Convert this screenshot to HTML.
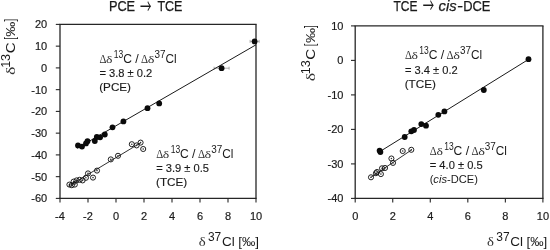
<!DOCTYPE html>
<html lang="en"><head><meta charset="utf-8"><title>Dual isotope plots</title>
<style>
html,body{margin:0;padding:0;background:#fff;}
body{width:550px;height:250px;overflow:hidden;}
svg{display:block;}
text{white-space:pre;}
</style></head>
<body>
<svg width="550" height="250" viewBox="0 0 550 250">
<rect x="0" y="0" width="550" height="250" fill="#ffffff"/>
<line x1="59.35" y1="24.4" x2="256.65" y2="24.4" stroke="#262626" stroke-width="1.1" />
<line x1="59.35" y1="198.4" x2="256.65" y2="198.4" stroke="#262626" stroke-width="1.1" />
<line x1="60.0" y1="24.4" x2="60.0" y2="198.4" stroke="#262626" stroke-width="1.3" />
<line x1="256.0" y1="24.4" x2="256.0" y2="198.4" stroke="#262626" stroke-width="1.3" />
<line x1="60.00" y1="198.4" x2="60.00" y2="202.6" stroke="#262626" stroke-width="1.1" />
<text x="60.00" y="219.60" font-family='"Liberation Sans", sans-serif' font-size="11.0" text-anchor="middle" fill="#1a1a1a" stroke="#1a1a1a" stroke-width="0.18">-4</text>
<line x1="88.00" y1="198.4" x2="88.00" y2="202.6" stroke="#262626" stroke-width="1.1" />
<text x="88.00" y="219.60" font-family='"Liberation Sans", sans-serif' font-size="11.0" text-anchor="middle" fill="#1a1a1a" stroke="#1a1a1a" stroke-width="0.18">-2</text>
<line x1="116.00" y1="198.4" x2="116.00" y2="202.6" stroke="#262626" stroke-width="1.1" />
<text x="116.00" y="219.60" font-family='"Liberation Sans", sans-serif' font-size="11.0" text-anchor="middle" fill="#1a1a1a" stroke="#1a1a1a" stroke-width="0.18">0</text>
<line x1="144.00" y1="198.4" x2="144.00" y2="202.6" stroke="#262626" stroke-width="1.1" />
<text x="144.00" y="219.60" font-family='"Liberation Sans", sans-serif' font-size="11.0" text-anchor="middle" fill="#1a1a1a" stroke="#1a1a1a" stroke-width="0.18">2</text>
<line x1="172.00" y1="198.4" x2="172.00" y2="202.6" stroke="#262626" stroke-width="1.1" />
<text x="172.00" y="219.60" font-family='"Liberation Sans", sans-serif' font-size="11.0" text-anchor="middle" fill="#1a1a1a" stroke="#1a1a1a" stroke-width="0.18">4</text>
<line x1="200.00" y1="198.4" x2="200.00" y2="202.6" stroke="#262626" stroke-width="1.1" />
<text x="200.00" y="219.60" font-family='"Liberation Sans", sans-serif' font-size="11.0" text-anchor="middle" fill="#1a1a1a" stroke="#1a1a1a" stroke-width="0.18">6</text>
<line x1="228.00" y1="198.4" x2="228.00" y2="202.6" stroke="#262626" stroke-width="1.1" />
<text x="228.00" y="219.60" font-family='"Liberation Sans", sans-serif' font-size="11.0" text-anchor="middle" fill="#1a1a1a" stroke="#1a1a1a" stroke-width="0.18">8</text>
<line x1="256.00" y1="198.4" x2="256.00" y2="202.6" stroke="#262626" stroke-width="1.1" />
<text x="256.00" y="219.60" font-family='"Liberation Sans", sans-serif' font-size="11.0" text-anchor="middle" fill="#1a1a1a" stroke="#1a1a1a" stroke-width="0.18">10</text>
<line x1="55.8" y1="24.40" x2="60.0" y2="24.40" stroke="#262626" stroke-width="1.1" />
<text x="47.20" y="28.30" font-family='"Liberation Sans", sans-serif' font-size="11.0" text-anchor="end" fill="#1a1a1a" stroke="#1a1a1a" stroke-width="0.18">20</text>
<line x1="55.8" y1="46.15" x2="60.0" y2="46.15" stroke="#262626" stroke-width="1.1" />
<text x="47.20" y="50.05" font-family='"Liberation Sans", sans-serif' font-size="11.0" text-anchor="end" fill="#1a1a1a" stroke="#1a1a1a" stroke-width="0.18">10</text>
<line x1="55.8" y1="67.90" x2="60.0" y2="67.90" stroke="#262626" stroke-width="1.1" />
<text x="47.20" y="71.80" font-family='"Liberation Sans", sans-serif' font-size="11.0" text-anchor="end" fill="#1a1a1a" stroke="#1a1a1a" stroke-width="0.18">0</text>
<line x1="55.8" y1="89.65" x2="60.0" y2="89.65" stroke="#262626" stroke-width="1.1" />
<text x="47.20" y="93.55" font-family='"Liberation Sans", sans-serif' font-size="11.0" text-anchor="end" fill="#1a1a1a" stroke="#1a1a1a" stroke-width="0.18">-10</text>
<line x1="55.8" y1="111.40" x2="60.0" y2="111.40" stroke="#262626" stroke-width="1.1" />
<text x="47.20" y="115.30" font-family='"Liberation Sans", sans-serif' font-size="11.0" text-anchor="end" fill="#1a1a1a" stroke="#1a1a1a" stroke-width="0.18">-20</text>
<line x1="55.8" y1="133.15" x2="60.0" y2="133.15" stroke="#262626" stroke-width="1.1" />
<text x="47.20" y="137.05" font-family='"Liberation Sans", sans-serif' font-size="11.0" text-anchor="end" fill="#1a1a1a" stroke="#1a1a1a" stroke-width="0.18">-30</text>
<line x1="55.8" y1="154.90" x2="60.0" y2="154.90" stroke="#262626" stroke-width="1.1" />
<text x="47.20" y="158.80" font-family='"Liberation Sans", sans-serif' font-size="11.0" text-anchor="end" fill="#1a1a1a" stroke="#1a1a1a" stroke-width="0.18">-40</text>
<line x1="55.8" y1="176.65" x2="60.0" y2="176.65" stroke="#262626" stroke-width="1.1" />
<text x="47.20" y="180.55" font-family='"Liberation Sans", sans-serif' font-size="11.0" text-anchor="end" fill="#1a1a1a" stroke="#1a1a1a" stroke-width="0.18">-50</text>
<line x1="55.8" y1="198.40" x2="60.0" y2="198.40" stroke="#262626" stroke-width="1.1" />
<text x="47.20" y="202.30" font-family='"Liberation Sans", sans-serif' font-size="11.0" text-anchor="end" fill="#1a1a1a" stroke="#1a1a1a" stroke-width="0.18">-60</text>
<line x1="354.55" y1="25.9" x2="543.55" y2="25.9" stroke="#262626" stroke-width="1.1" />
<line x1="354.55" y1="198.4" x2="543.55" y2="198.4" stroke="#262626" stroke-width="1.1" />
<line x1="355.2" y1="25.9" x2="355.2" y2="198.4" stroke="#262626" stroke-width="1.3" />
<line x1="542.9" y1="25.9" x2="542.9" y2="198.4" stroke="#262626" stroke-width="1.3" />
<line x1="355.20" y1="198.4" x2="355.20" y2="202.6" stroke="#262626" stroke-width="1.1" />
<text x="355.20" y="219.60" font-family='"Liberation Sans", sans-serif' font-size="11.0" text-anchor="middle" fill="#1a1a1a" stroke="#1a1a1a" stroke-width="0.18">0</text>
<line x1="392.74" y1="198.4" x2="392.74" y2="202.6" stroke="#262626" stroke-width="1.1" />
<text x="392.74" y="219.60" font-family='"Liberation Sans", sans-serif' font-size="11.0" text-anchor="middle" fill="#1a1a1a" stroke="#1a1a1a" stroke-width="0.18">2</text>
<line x1="430.28" y1="198.4" x2="430.28" y2="202.6" stroke="#262626" stroke-width="1.1" />
<text x="430.28" y="219.60" font-family='"Liberation Sans", sans-serif' font-size="11.0" text-anchor="middle" fill="#1a1a1a" stroke="#1a1a1a" stroke-width="0.18">4</text>
<line x1="467.82" y1="198.4" x2="467.82" y2="202.6" stroke="#262626" stroke-width="1.1" />
<text x="467.82" y="219.60" font-family='"Liberation Sans", sans-serif' font-size="11.0" text-anchor="middle" fill="#1a1a1a" stroke="#1a1a1a" stroke-width="0.18">6</text>
<line x1="505.36" y1="198.4" x2="505.36" y2="202.6" stroke="#262626" stroke-width="1.1" />
<text x="505.36" y="219.60" font-family='"Liberation Sans", sans-serif' font-size="11.0" text-anchor="middle" fill="#1a1a1a" stroke="#1a1a1a" stroke-width="0.18">8</text>
<line x1="542.90" y1="198.4" x2="542.90" y2="202.6" stroke="#262626" stroke-width="1.1" />
<text x="542.90" y="219.60" font-family='"Liberation Sans", sans-serif' font-size="11.0" text-anchor="middle" fill="#1a1a1a" stroke="#1a1a1a" stroke-width="0.18">10</text>
<line x1="351.0" y1="25.90" x2="355.2" y2="25.90" stroke="#262626" stroke-width="1.1" />
<text x="343.40" y="29.80" font-family='"Liberation Sans", sans-serif' font-size="11.0" text-anchor="end" fill="#1a1a1a" stroke="#1a1a1a" stroke-width="0.18">10</text>
<line x1="351.0" y1="60.40" x2="355.2" y2="60.40" stroke="#262626" stroke-width="1.1" />
<text x="343.40" y="64.30" font-family='"Liberation Sans", sans-serif' font-size="11.0" text-anchor="end" fill="#1a1a1a" stroke="#1a1a1a" stroke-width="0.18">0</text>
<line x1="351.0" y1="94.90" x2="355.2" y2="94.90" stroke="#262626" stroke-width="1.1" />
<text x="343.40" y="98.80" font-family='"Liberation Sans", sans-serif' font-size="11.0" text-anchor="end" fill="#1a1a1a" stroke="#1a1a1a" stroke-width="0.18">-10</text>
<line x1="351.0" y1="129.40" x2="355.2" y2="129.40" stroke="#262626" stroke-width="1.1" />
<text x="343.40" y="133.30" font-family='"Liberation Sans", sans-serif' font-size="11.0" text-anchor="end" fill="#1a1a1a" stroke="#1a1a1a" stroke-width="0.18">-20</text>
<line x1="351.0" y1="163.90" x2="355.2" y2="163.90" stroke="#262626" stroke-width="1.1" />
<text x="343.40" y="167.80" font-family='"Liberation Sans", sans-serif' font-size="11.0" text-anchor="end" fill="#1a1a1a" stroke="#1a1a1a" stroke-width="0.18">-30</text>
<line x1="351.0" y1="198.40" x2="355.2" y2="198.40" stroke="#262626" stroke-width="1.1" />
<text x="343.40" y="202.30" font-family='"Liberation Sans", sans-serif' font-size="11.0" text-anchor="end" fill="#1a1a1a" stroke="#1a1a1a" stroke-width="0.18">-40</text>
<line x1="214.1" y1="68.2" x2="229.1" y2="68.2" stroke="#9a9a9a" stroke-width="0.8" />
<line x1="214.1" y1="66.7" x2="214.1" y2="69.7" stroke="#9a9a9a" stroke-width="0.8" />
<line x1="229.1" y1="66.7" x2="229.1" y2="69.7" stroke="#9a9a9a" stroke-width="0.8" />
<line x1="250.1" y1="41.4" x2="259.1" y2="41.4" stroke="#9a9a9a" stroke-width="0.8" />
<line x1="250.1" y1="39.9" x2="250.1" y2="42.9" stroke="#9a9a9a" stroke-width="0.8" />
<line x1="259.1" y1="39.9" x2="259.1" y2="42.9" stroke="#9a9a9a" stroke-width="0.8" />
<line x1="77" y1="148.3" x2="256" y2="44.8" stroke="#1a1a1a" stroke-width="1.0" />
<line x1="68.5" y1="186.2" x2="141" y2="142.6" stroke="#1a1a1a" stroke-width="0.9" />
<line x1="380" y1="151.5" x2="528.5" y2="59.4" stroke="#1a1a1a" stroke-width="1.0" />
<line x1="370.5" y1="177.6" x2="412" y2="149.6" stroke="#1a1a1a" stroke-width="0.9" />
<circle cx="78" cy="145.4" r="2.9" fill="#0a0a0a"/>
<circle cx="82" cy="146.6" r="2.9" fill="#0a0a0a"/>
<circle cx="86" cy="143.4" r="2.9" fill="#0a0a0a"/>
<circle cx="87.5" cy="141.2" r="2.9" fill="#0a0a0a"/>
<circle cx="94.8" cy="141" r="2.9" fill="#0a0a0a"/>
<circle cx="96.8" cy="137" r="2.9" fill="#0a0a0a"/>
<circle cx="100.1" cy="137.3" r="2.9" fill="#0a0a0a"/>
<circle cx="104.8" cy="134.5" r="2.9" fill="#0a0a0a"/>
<circle cx="112.5" cy="127.3" r="2.9" fill="#0a0a0a"/>
<circle cx="123.4" cy="121.4" r="2.9" fill="#0a0a0a"/>
<circle cx="147.5" cy="108.2" r="2.9" fill="#0a0a0a"/>
<circle cx="159.2" cy="103.4" r="2.9" fill="#0a0a0a"/>
<circle cx="221.6" cy="68.2" r="2.9" fill="#0a0a0a"/>
<circle cx="254.6" cy="41.4" r="2.9" fill="#0a0a0a"/>
<circle cx="379.6" cy="150.6" r="2.9" fill="#0a0a0a"/>
<circle cx="380.4" cy="152" r="2.9" fill="#0a0a0a"/>
<circle cx="404.7" cy="137" r="2.9" fill="#0a0a0a"/>
<circle cx="411.3" cy="131.3" r="2.9" fill="#0a0a0a"/>
<circle cx="414" cy="130" r="2.9" fill="#0a0a0a"/>
<circle cx="421.3" cy="124.1" r="2.9" fill="#0a0a0a"/>
<circle cx="426" cy="125.7" r="2.9" fill="#0a0a0a"/>
<circle cx="438.3" cy="114.8" r="2.9" fill="#0a0a0a"/>
<circle cx="444.4" cy="111.4" r="2.9" fill="#0a0a0a"/>
<circle cx="483.8" cy="90" r="2.9" fill="#0a0a0a"/>
<circle cx="528.5" cy="59.2" r="2.9" fill="#0a0a0a"/>
<circle cx="69.4" cy="184.6" r="2.55" fill="none" stroke="#141414" stroke-width="0.95"/>
<circle cx="69.4" cy="184.6" r="0.8" fill="#333"/>
<circle cx="71.8" cy="185.2" r="2.55" fill="none" stroke="#141414" stroke-width="0.95"/>
<circle cx="71.8" cy="185.2" r="0.8" fill="#333"/>
<circle cx="73.6" cy="181.6" r="2.55" fill="none" stroke="#141414" stroke-width="0.95"/>
<circle cx="73.6" cy="181.6" r="0.8" fill="#333"/>
<circle cx="74.8" cy="184.6" r="2.55" fill="none" stroke="#141414" stroke-width="0.95"/>
<circle cx="74.8" cy="184.6" r="0.8" fill="#333"/>
<circle cx="76.6" cy="180.4" r="2.55" fill="none" stroke="#141414" stroke-width="0.95"/>
<circle cx="76.6" cy="180.4" r="0.8" fill="#333"/>
<circle cx="79.6" cy="179.8" r="2.55" fill="none" stroke="#141414" stroke-width="0.95"/>
<circle cx="79.6" cy="179.8" r="0.8" fill="#333"/>
<circle cx="82.6" cy="180.4" r="2.55" fill="none" stroke="#141414" stroke-width="0.95"/>
<circle cx="82.6" cy="180.4" r="0.8" fill="#333"/>
<circle cx="85.9" cy="177.8" r="2.55" fill="none" stroke="#141414" stroke-width="0.95"/>
<circle cx="85.9" cy="177.8" r="0.8" fill="#333"/>
<circle cx="88" cy="173.4" r="2.55" fill="none" stroke="#141414" stroke-width="0.95"/>
<circle cx="88" cy="173.4" r="0.8" fill="#333"/>
<circle cx="93" cy="177.6" r="2.55" fill="none" stroke="#141414" stroke-width="0.95"/>
<circle cx="93" cy="177.6" r="0.8" fill="#333"/>
<circle cx="97" cy="170.6" r="2.55" fill="none" stroke="#141414" stroke-width="0.95"/>
<circle cx="97" cy="170.6" r="0.8" fill="#333"/>
<circle cx="110.8" cy="159.4" r="2.55" fill="none" stroke="#141414" stroke-width="0.95"/>
<circle cx="110.8" cy="159.4" r="0.8" fill="#333"/>
<circle cx="118" cy="155.8" r="2.55" fill="none" stroke="#141414" stroke-width="0.95"/>
<circle cx="118" cy="155.8" r="0.8" fill="#333"/>
<circle cx="131.8" cy="144.2" r="2.55" fill="none" stroke="#141414" stroke-width="0.95"/>
<circle cx="131.8" cy="144.2" r="0.8" fill="#333"/>
<circle cx="136.6" cy="145.4" r="2.55" fill="none" stroke="#141414" stroke-width="0.95"/>
<circle cx="136.6" cy="145.4" r="0.8" fill="#333"/>
<circle cx="140.6" cy="142.6" r="2.55" fill="none" stroke="#141414" stroke-width="0.95"/>
<circle cx="140.6" cy="142.6" r="0.8" fill="#333"/>
<circle cx="143.2" cy="149" r="2.55" fill="none" stroke="#141414" stroke-width="0.95"/>
<circle cx="143.2" cy="149" r="0.8" fill="#333"/>
<circle cx="371" cy="177.3" r="2.55" fill="none" stroke="#141414" stroke-width="0.95"/>
<circle cx="371" cy="177.3" r="0.8" fill="#333"/>
<circle cx="375.9" cy="173.2" r="2.55" fill="none" stroke="#141414" stroke-width="0.95"/>
<circle cx="375.9" cy="173.2" r="0.8" fill="#333"/>
<circle cx="377" cy="172" r="2.55" fill="none" stroke="#141414" stroke-width="0.95"/>
<circle cx="377" cy="172" r="0.8" fill="#333"/>
<circle cx="380.9" cy="174.1" r="2.55" fill="none" stroke="#141414" stroke-width="0.95"/>
<circle cx="380.9" cy="174.1" r="0.8" fill="#333"/>
<circle cx="382" cy="168.3" r="2.55" fill="none" stroke="#141414" stroke-width="0.95"/>
<circle cx="382" cy="168.3" r="0.8" fill="#333"/>
<circle cx="385" cy="168" r="2.55" fill="none" stroke="#141414" stroke-width="0.95"/>
<circle cx="385" cy="168" r="0.8" fill="#333"/>
<circle cx="391.4" cy="158.5" r="2.55" fill="none" stroke="#141414" stroke-width="0.95"/>
<circle cx="391.4" cy="158.5" r="0.8" fill="#333"/>
<circle cx="393" cy="162.9" r="2.55" fill="none" stroke="#141414" stroke-width="0.95"/>
<circle cx="393" cy="162.9" r="0.8" fill="#333"/>
<circle cx="402.7" cy="151" r="2.55" fill="none" stroke="#141414" stroke-width="0.95"/>
<circle cx="402.7" cy="151" r="0.8" fill="#333"/>
<circle cx="411.3" cy="149.8" r="2.55" fill="none" stroke="#141414" stroke-width="0.95"/>
<circle cx="411.3" cy="149.8" r="0.8" fill="#333"/>
<text x="108.90" y="10.90" font-family='"Liberation Sans", sans-serif' font-size="13.8" text-anchor="start" fill="#1a1a1a" textLength="26.23" lengthAdjust="spacingAndGlyphs" stroke="#1a1a1a" stroke-width="0.25">PCE</text>
<text x="139.94" y="13.50" font-family='"Noto Sans CJK SC", "DejaVu Sans", sans-serif' font-size="20.5" text-anchor="start" fill="#1a1a1a" textLength="11.52" lengthAdjust="spacingAndGlyphs" >→</text>
<text x="157.40" y="10.90" font-family='"Liberation Sans", sans-serif' font-size="13.8" text-anchor="start" fill="#1a1a1a" textLength="25.02" lengthAdjust="spacingAndGlyphs" stroke="#1a1a1a" stroke-width="0.25">TCE</text>
<text x="393.51" y="10.70" font-family='"Liberation Sans", sans-serif' font-size="13.8" text-anchor="start" fill="#1a1a1a" textLength="23.99" lengthAdjust="spacingAndGlyphs" stroke="#1a1a1a" stroke-width="0.25">TCE</text>
<text x="422.74" y="13.30" font-family='"Noto Sans CJK SC", "DejaVu Sans", sans-serif' font-size="20.5" text-anchor="start" fill="#1a1a1a" textLength="11.41" lengthAdjust="spacingAndGlyphs" >→</text>
<text x="438.54" y="10.70" font-family='"Liberation Sans", sans-serif' font-size="13.8" text-anchor="start" fill="#1a1a1a" textLength="18.09" lengthAdjust="spacingAndGlyphs" font-style="italic" stroke="#1a1a1a" stroke-width="0.25">cis</text>
<text x="457.16" y="10.70" font-family='"Liberation Sans", sans-serif' font-size="13.8" text-anchor="start" fill="#1a1a1a" textLength="5.77" lengthAdjust="spacingAndGlyphs" stroke="#1a1a1a" stroke-width="0.25">-</text>
<text x="463.19" y="10.70" font-family='"Liberation Sans", sans-serif' font-size="13.8" text-anchor="start" fill="#1a1a1a" textLength="27.25" lengthAdjust="spacingAndGlyphs" stroke="#1a1a1a" stroke-width="0.25">DCE</text>
<text x="99.39" y="62.60" font-family='"Liberation Serif", serif' font-size="12" text-anchor="start" fill="#333333" textLength="6.98" lengthAdjust="spacingAndGlyphs" >Δ</text>
<text x="106.01" y="62.60" font-family='"Liberation Serif", serif' font-size="11.2" text-anchor="start" fill="#333333" textLength="6.45" lengthAdjust="spacingAndGlyphs" >δ</text>
<text x="113.87" y="57.90" font-family='"Liberation Sans", sans-serif' font-size="10.8" text-anchor="start" fill="#1a1a1a" textLength="9.49" lengthAdjust="spacingAndGlyphs" >13</text>
<text x="123.22" y="62.60" font-family='"Liberation Sans", sans-serif' font-size="12.4" text-anchor="start" fill="#1a1a1a" textLength="8.73" lengthAdjust="spacingAndGlyphs" >C</text>
<text x="135.30" y="62.60" font-family='"Liberation Sans", sans-serif' font-size="12.4" text-anchor="start" fill="#1a1a1a" textLength="3.50" lengthAdjust="spacingAndGlyphs" >/</text>
<text x="141.09" y="62.60" font-family='"Liberation Serif", serif' font-size="12" text-anchor="start" fill="#333333" textLength="7.10" lengthAdjust="spacingAndGlyphs" >Δ</text>
<text x="147.79" y="62.60" font-family='"Liberation Serif", serif' font-size="11.2" text-anchor="start" fill="#333333" textLength="6.68" lengthAdjust="spacingAndGlyphs" >δ</text>
<text x="154.43" y="57.90" font-family='"Liberation Sans", sans-serif' font-size="10.8" text-anchor="start" fill="#1a1a1a" textLength="11.03" lengthAdjust="spacingAndGlyphs" >37</text>
<text x="165.43" y="62.60" font-family='"Liberation Sans", sans-serif' font-size="12.4" text-anchor="start" fill="#1a1a1a" textLength="11.14" lengthAdjust="spacingAndGlyphs" >Cl</text>
<text x="99.38" y="76.60" font-family='"Liberation Sans", sans-serif' font-size="11.8" text-anchor="start" fill="#1a1a1a" textLength="52.85" lengthAdjust="spacingAndGlyphs" stroke="#1a1a1a" stroke-width="0.15">= 3.8 ± 0.2</text>
<text x="99.21" y="91.10" font-family='"Liberation Sans", sans-serif' font-size="11.8" text-anchor="start" fill="#1a1a1a" textLength="31.82" lengthAdjust="spacingAndGlyphs" stroke="#1a1a1a" stroke-width="0.15">(PCE)</text>
<text x="156.19" y="157.60" font-family='"Liberation Serif", serif' font-size="12" text-anchor="start" fill="#333333" textLength="6.98" lengthAdjust="spacingAndGlyphs" >Δ</text>
<text x="162.81" y="157.60" font-family='"Liberation Serif", serif' font-size="11.2" text-anchor="start" fill="#333333" textLength="6.45" lengthAdjust="spacingAndGlyphs" >δ</text>
<text x="170.67" y="152.90" font-family='"Liberation Sans", sans-serif' font-size="10.8" text-anchor="start" fill="#1a1a1a" textLength="9.49" lengthAdjust="spacingAndGlyphs" >13</text>
<text x="180.02" y="157.60" font-family='"Liberation Sans", sans-serif' font-size="12.4" text-anchor="start" fill="#1a1a1a" textLength="8.73" lengthAdjust="spacingAndGlyphs" >C</text>
<text x="192.10" y="157.60" font-family='"Liberation Sans", sans-serif' font-size="12.4" text-anchor="start" fill="#1a1a1a" textLength="3.50" lengthAdjust="spacingAndGlyphs" >/</text>
<text x="197.89" y="157.60" font-family='"Liberation Serif", serif' font-size="12" text-anchor="start" fill="#333333" textLength="7.10" lengthAdjust="spacingAndGlyphs" >Δ</text>
<text x="204.59" y="157.60" font-family='"Liberation Serif", serif' font-size="11.2" text-anchor="start" fill="#333333" textLength="6.68" lengthAdjust="spacingAndGlyphs" >δ</text>
<text x="211.23" y="152.90" font-family='"Liberation Sans", sans-serif' font-size="10.8" text-anchor="start" fill="#1a1a1a" textLength="11.03" lengthAdjust="spacingAndGlyphs" >37</text>
<text x="222.23" y="157.60" font-family='"Liberation Sans", sans-serif' font-size="12.4" text-anchor="start" fill="#1a1a1a" textLength="11.14" lengthAdjust="spacingAndGlyphs" >Cl</text>
<text x="156.18" y="171.60" font-family='"Liberation Sans", sans-serif' font-size="11.8" text-anchor="start" fill="#1a1a1a" textLength="52.85" lengthAdjust="spacingAndGlyphs" stroke="#1a1a1a" stroke-width="0.15">= 3.9 ± 0.5</text>
<text x="156.01" y="186.10" font-family='"Liberation Sans", sans-serif' font-size="11.8" text-anchor="start" fill="#1a1a1a" textLength="31.16" lengthAdjust="spacingAndGlyphs" stroke="#1a1a1a" stroke-width="0.15">(TCE)</text>
<text x="404.89" y="59.10" font-family='"Liberation Serif", serif' font-size="12" text-anchor="start" fill="#333333" textLength="6.98" lengthAdjust="spacingAndGlyphs" >Δ</text>
<text x="411.51" y="59.10" font-family='"Liberation Serif", serif' font-size="11.2" text-anchor="start" fill="#333333" textLength="6.45" lengthAdjust="spacingAndGlyphs" >δ</text>
<text x="419.37" y="54.40" font-family='"Liberation Sans", sans-serif' font-size="10.8" text-anchor="start" fill="#1a1a1a" textLength="9.49" lengthAdjust="spacingAndGlyphs" >13</text>
<text x="428.72" y="59.10" font-family='"Liberation Sans", sans-serif' font-size="12.4" text-anchor="start" fill="#1a1a1a" textLength="8.73" lengthAdjust="spacingAndGlyphs" >C</text>
<text x="440.80" y="59.10" font-family='"Liberation Sans", sans-serif' font-size="12.4" text-anchor="start" fill="#1a1a1a" textLength="3.50" lengthAdjust="spacingAndGlyphs" >/</text>
<text x="446.59" y="59.10" font-family='"Liberation Serif", serif' font-size="12" text-anchor="start" fill="#333333" textLength="7.10" lengthAdjust="spacingAndGlyphs" >Δ</text>
<text x="453.29" y="59.10" font-family='"Liberation Serif", serif' font-size="11.2" text-anchor="start" fill="#333333" textLength="6.68" lengthAdjust="spacingAndGlyphs" >δ</text>
<text x="459.93" y="54.40" font-family='"Liberation Sans", sans-serif' font-size="10.8" text-anchor="start" fill="#1a1a1a" textLength="11.03" lengthAdjust="spacingAndGlyphs" >37</text>
<text x="470.93" y="59.10" font-family='"Liberation Sans", sans-serif' font-size="12.4" text-anchor="start" fill="#1a1a1a" textLength="11.14" lengthAdjust="spacingAndGlyphs" >Cl</text>
<text x="404.88" y="73.50" font-family='"Liberation Sans", sans-serif' font-size="11.8" text-anchor="start" fill="#1a1a1a" textLength="52.85" lengthAdjust="spacingAndGlyphs" stroke="#1a1a1a" stroke-width="0.15">= 3.4 ± 0.2</text>
<text x="404.71" y="87.60" font-family='"Liberation Sans", sans-serif' font-size="11.8" text-anchor="start" fill="#1a1a1a" textLength="31.16" lengthAdjust="spacingAndGlyphs" stroke="#1a1a1a" stroke-width="0.15">(TCE)</text>
<text x="429.79" y="154.70" font-family='"Liberation Serif", serif' font-size="12" text-anchor="start" fill="#333333" textLength="6.98" lengthAdjust="spacingAndGlyphs" >Δ</text>
<text x="436.41" y="154.70" font-family='"Liberation Serif", serif' font-size="11.2" text-anchor="start" fill="#333333" textLength="6.45" lengthAdjust="spacingAndGlyphs" >δ</text>
<text x="444.27" y="150.00" font-family='"Liberation Sans", sans-serif' font-size="10.8" text-anchor="start" fill="#1a1a1a" textLength="9.49" lengthAdjust="spacingAndGlyphs" >13</text>
<text x="453.62" y="154.70" font-family='"Liberation Sans", sans-serif' font-size="12.4" text-anchor="start" fill="#1a1a1a" textLength="8.73" lengthAdjust="spacingAndGlyphs" >C</text>
<text x="465.70" y="154.70" font-family='"Liberation Sans", sans-serif' font-size="12.4" text-anchor="start" fill="#1a1a1a" textLength="3.50" lengthAdjust="spacingAndGlyphs" >/</text>
<text x="471.49" y="154.70" font-family='"Liberation Serif", serif' font-size="12" text-anchor="start" fill="#333333" textLength="7.10" lengthAdjust="spacingAndGlyphs" >Δ</text>
<text x="478.19" y="154.70" font-family='"Liberation Serif", serif' font-size="11.2" text-anchor="start" fill="#333333" textLength="6.68" lengthAdjust="spacingAndGlyphs" >δ</text>
<text x="484.83" y="150.00" font-family='"Liberation Sans", sans-serif' font-size="10.8" text-anchor="start" fill="#1a1a1a" textLength="11.03" lengthAdjust="spacingAndGlyphs" >37</text>
<text x="495.83" y="154.70" font-family='"Liberation Sans", sans-serif' font-size="12.4" text-anchor="start" fill="#1a1a1a" textLength="11.14" lengthAdjust="spacingAndGlyphs" >Cl</text>
<text x="429.78" y="169.00" font-family='"Liberation Sans", sans-serif' font-size="11.8" text-anchor="start" fill="#1a1a1a" textLength="52.85" lengthAdjust="spacingAndGlyphs" stroke="#1a1a1a" stroke-width="0.15">= 4.0 ± 0.5</text>
<text x="429.64" y="183.20" font-family='"Liberation Sans", sans-serif' font-size="11.8" fill="#1a1a1a" textLength="48.25" lengthAdjust="spacingAndGlyphs">(<tspan font-style="italic">cis</tspan>-DCE)</text>
<text transform="translate(15.20,74.95) rotate(-90)" font-family='"Liberation Serif", serif' font-size="13" fill="#333333" textLength="8.35" lengthAdjust="spacingAndGlyphs">δ</text>
<text transform="translate(9.70,67.84) rotate(-90)" font-family='"Liberation Sans", sans-serif' font-size="12.7" fill="#1a1a1a" textLength="13.94" lengthAdjust="spacingAndGlyphs">13</text>
<text transform="translate(15.20,53.27) rotate(-90)" font-family='"Liberation Sans", sans-serif' font-size="12.8" fill="#1a1a1a" textLength="10.89" lengthAdjust="spacingAndGlyphs">C</text>
<text transform="translate(14.90,39.80) rotate(-90)" font-family='"Liberation Sans", sans-serif' font-size="14.4" fill="#1a1a1a" textLength="2.67" lengthAdjust="spacingAndGlyphs">[</text>
<text transform="translate(15.20,36.65) rotate(-90)" font-family='"Liberation Sans", sans-serif' font-size="12.8" fill="#1a1a1a" textLength="15.07" lengthAdjust="spacingAndGlyphs">‰</text>
<text transform="translate(14.90,21.50) rotate(-90)" font-family='"Liberation Sans", sans-serif' font-size="14.4" fill="#1a1a1a" textLength="2.67" lengthAdjust="spacingAndGlyphs">]</text>
<text transform="translate(315.20,81.35) rotate(-90)" font-family='"Liberation Serif", serif' font-size="13" fill="#333333" textLength="8.35" lengthAdjust="spacingAndGlyphs">δ</text>
<text transform="translate(309.70,74.24) rotate(-90)" font-family='"Liberation Sans", sans-serif' font-size="12.7" fill="#1a1a1a" textLength="13.94" lengthAdjust="spacingAndGlyphs">13</text>
<text transform="translate(315.20,59.67) rotate(-90)" font-family='"Liberation Sans", sans-serif' font-size="12.8" fill="#1a1a1a" textLength="10.89" lengthAdjust="spacingAndGlyphs">C</text>
<text transform="translate(314.90,46.20) rotate(-90)" font-family='"Liberation Sans", sans-serif' font-size="14.4" fill="#1a1a1a" textLength="2.67" lengthAdjust="spacingAndGlyphs">[</text>
<text transform="translate(315.20,43.05) rotate(-90)" font-family='"Liberation Sans", sans-serif' font-size="12.8" fill="#1a1a1a" textLength="15.07" lengthAdjust="spacingAndGlyphs">‰</text>
<text transform="translate(314.90,27.90) rotate(-90)" font-family='"Liberation Sans", sans-serif' font-size="14.4" fill="#1a1a1a" textLength="2.67" lengthAdjust="spacingAndGlyphs">]</text>
<text x="198.84" y="246.30" font-family='"Liberation Serif", serif' font-size="13" text-anchor="start" fill="#333333" textLength="6.96" lengthAdjust="spacingAndGlyphs" >δ</text>
<text x="207.95" y="241.10" font-family='"Liberation Sans", sans-serif' font-size="12.0" text-anchor="start" fill="#1a1a1a" textLength="13.32" lengthAdjust="spacingAndGlyphs" >37</text>
<text x="222.07" y="246.30" font-family='"Liberation Sans", sans-serif' font-size="13.3" text-anchor="start" fill="#1a1a1a" textLength="12.72" lengthAdjust="spacingAndGlyphs" >Cl</text>
<text x="238.27" y="246.30" font-family='"Liberation Sans", sans-serif' font-size="13.3" text-anchor="start" fill="#1a1a1a" textLength="20.72" lengthAdjust="spacingAndGlyphs" >[‰]</text>
<text x="487.14" y="246.30" font-family='"Liberation Serif", serif' font-size="13" text-anchor="start" fill="#333333" textLength="6.96" lengthAdjust="spacingAndGlyphs" >δ</text>
<text x="496.25" y="241.10" font-family='"Liberation Sans", sans-serif' font-size="12.0" text-anchor="start" fill="#1a1a1a" textLength="13.32" lengthAdjust="spacingAndGlyphs" >37</text>
<text x="510.37" y="246.30" font-family='"Liberation Sans", sans-serif' font-size="13.3" text-anchor="start" fill="#1a1a1a" textLength="12.72" lengthAdjust="spacingAndGlyphs" >Cl</text>
<text x="526.57" y="246.30" font-family='"Liberation Sans", sans-serif' font-size="13.3" text-anchor="start" fill="#1a1a1a" textLength="20.72" lengthAdjust="spacingAndGlyphs" >[‰]</text>
</svg>
</body></html>
